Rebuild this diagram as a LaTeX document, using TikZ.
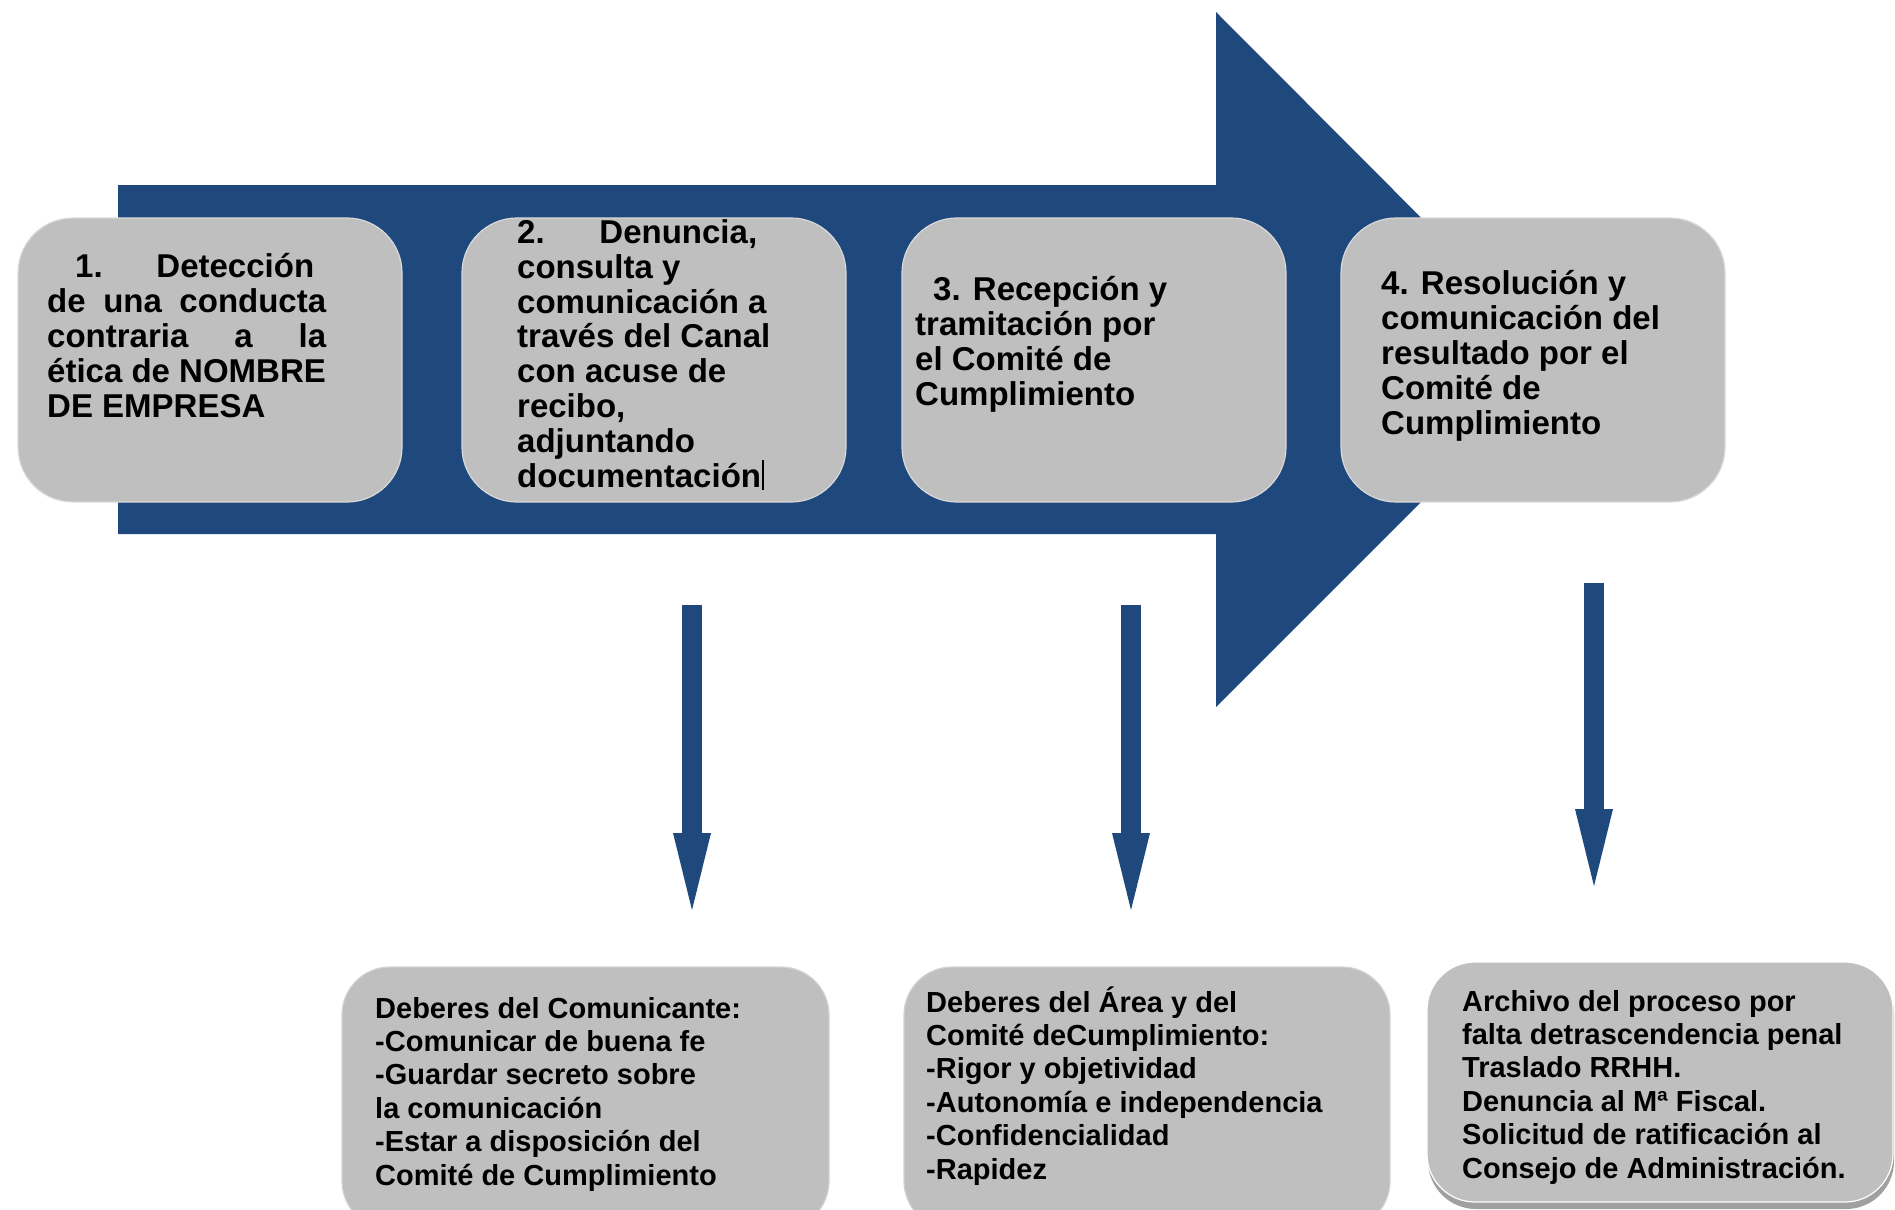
\documentclass[tikz,border=0pt]{standalone}
\usepackage{fontspec}
\setmainfont{Liberation Sans}
\usetikzlibrary{arrows.meta}
\definecolor{navy}{RGB}{31,73,125}
\definecolor{boxgray}{RGB}{191,191,191}
\definecolor{shadowgray}{RGB}{160,160,160}
\begin{document}
\begin{tikzpicture}[x=1bp,y=-1bp,
  topbox/.style={fill=boxgray, draw=boxgray!60!white, line width=1.2bp, rounded corners=55bp,
    minimum width=384bp, minimum height=284bp, anchor=north west, inner sep=0pt, outer sep=0pt},
  botbox/.style={fill=boxgray, draw=boxgray!70!white, line width=1.2bp, rounded corners=48bp,
    minimum height=262bp, anchor=north west, inner sep=0pt, outer sep=0pt},
  toptext/.style={font=\fontsize{33bp}{34.8bp}\selectfont\bfseries, align=left, inner sep=0pt, anchor=base west},
  bottext/.style={font=\fontsize{29bp}{33.4bp}\selectfont\bfseries, align=left, inner sep=0pt, anchor=base west},
  downarrow/.style={draw=navy, line width=20bp, -{Triangle[length=77bp,width=38bp,line width=0bp,fill=navy]}}
]
\useasboundingbox (0,0) rectangle (1895,1209);
\clip (0,0) rectangle (1895,1209);

% big arrow
\fill[navy] (118,185) -- (1216,185) -- (1216,12) -- (1563,360) -- (1216,707) -- (1216,534) -- (118,534) -- cycle;

% top boxes
\node[topbox] (b1) at (18,218) {};
\node[topbox] (b2) at (462,218) {};
\node[topbox] (b3) at (902,218) {};
\node[topbox] (b4) at (1341,218) {};

% text nodes: anchor is the baseline of the LAST line
\node[toptext] (t1) at (47,417) {\hspace*{28bp}\makebox[239bp][s]{1. Detección}\\
\makebox[279bp][s]{de una conducta}\\
\makebox[279bp][s]{contraria a la}\\
ética de NOMBRE\\
DE EMPRESA};

\node[toptext] (t2) at (517,487) {\makebox[240bp][s]{2. Denuncia,}\\
consulta y\\
comunicación a\\
través del Canal\\
con acuse de\\
recibo,\\
adjuntando\\
documentación\hspace{1bp}\rule[-3bp]{1.6bp}{30bp}};

\node[toptext] (t3) at (915,405) {\hspace*{18bp}3. Recepción y\\
tramitación por\\
el Comité de\\
Cumplimiento};

\node[toptext] (t4) at (1381,434) {4. Resolución y\\
comunicación del\\
resultado por el\\
Comité de\\
Cumplimiento};

% down arrows
\coordinate (d1s) at (692,605);
\coordinate (d1e) at (692,910);
\coordinate (d2s) at (1131,605);
\coordinate (d2e) at (1131,910);
\coordinate (d3s) at (1594,583);
\coordinate (d3e) at (1594,886);
\draw[downarrow] (d1s) -- (d1e);
\draw[downarrow] (d2s) -- (d2e);
\draw[downarrow] (d3s) -- (d3e);

% bottom boxes
\node[botbox, minimum width=487bp] (b5) at (342,967) {};
\node[botbox, minimum width=486bp] (b6) at (904,967) {};
\node[botbox, minimum width=466bp, minimum height=243bp, fill=shadowgray, draw=none] (b7s) at (1428,966) {};
\node[botbox, minimum width=466bp, minimum height=240bp, draw=white] (b7) at (1427,962) {};

\node[bottext] (t5) at (375,1185) {Deberes del Comunicante:\\
-Comunicar de buena fe\\
-Guardar secreto sobre\\
la comunicación\\
-Estar a disposición del\\
Comité de Cumplimiento};

\node[bottext] (t6) at (926,1179) {Deberes del Área y del\\
Comité deCumplimiento:\\
-Rigor y objetividad\\
-Autonomía e independencia\\
-Confidencialidad\\
-Rapidez};

\node[bottext] (t7) at (1462,1178) {Archivo del proceso por\\
falta detrascendencia penal\\
Traslado RRHH.\\
Denuncia al Mª Fiscal.\\
Solicitud de ratificación al\\
Consejo de Administración.};
\end{tikzpicture}
\end{document}
